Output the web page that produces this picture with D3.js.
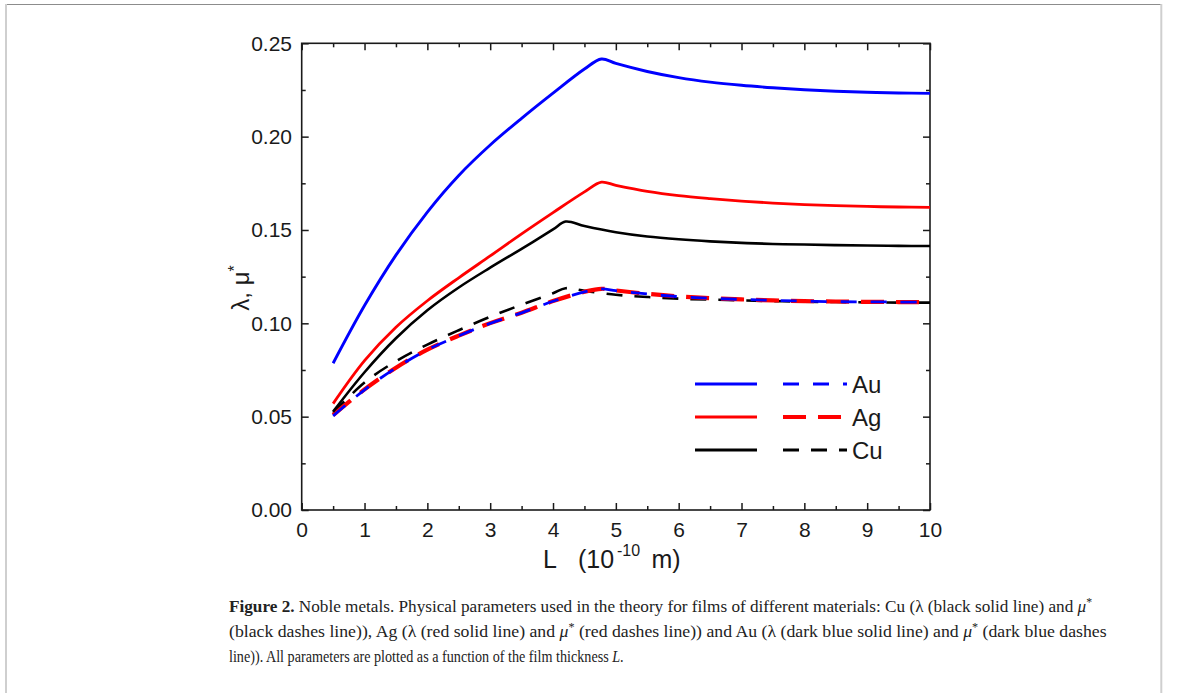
<!DOCTYPE html>
<html>
<head>
<meta charset="utf-8">
<script src="https://cdn.jsdelivr.net/npm/d3@7"></script>
<style>
  html, body { margin: 0; padding: 0; background: #fff; }
  svg { display: block; }
</style>
</head>
<body>
<svg id="chart" width="1179" height="693"></svg>
<script>
// ---------------- data ----------------
const L_AuAg = [0.5, 1.0, 1.5, 2.0, 2.5, 3.0, 3.5, 4.0, 4.5, 4.77, 5.0, 5.5, 6.0, 6.5, 7.0, 7.5, 8.0, 8.5, 9.0, 9.5, 10.0];
const Au_lambda = [0.0786, 0.1095, 0.1365, 0.1596, 0.1792, 0.1955, 0.2098, 0.2233, 0.2362, 0.2416, 0.2392, 0.2349, 0.2316, 0.2292, 0.2275, 0.2262, 0.2251, 0.2243, 0.2238, 0.2234, 0.2232];
const Ag_lambda = [0.0570, 0.0800, 0.0979, 0.1121, 0.1244, 0.1361, 0.1479, 0.1593, 0.1704, 0.1756, 0.1739, 0.1707, 0.1684, 0.1668, 0.1655, 0.1644, 0.1636, 0.1630, 0.1626, 0.1623, 0.1621];
const Au_mu = [0.0504, 0.0644, 0.0761, 0.0858, 0.0933, 0.1000, 0.1056, 0.1118, 0.1168, 0.1184, 0.1175, 0.1157, 0.1143, 0.1134, 0.1128, 0.1123, 0.1119, 0.1116, 0.1115, 0.1114, 0.1113];
const Ag_mu = [0.0508, 0.0646, 0.0762, 0.0859, 0.0934, 0.1001, 0.1057, 0.1119, 0.1169, 0.1185, 0.1176, 0.1158, 0.1144, 0.1135, 0.1128, 0.1123, 0.1119, 0.1117, 0.1115, 0.1114, 0.1113];
const L_Cu = [0.5, 1.0, 1.5, 2.0, 2.5, 3.0, 3.5, 4.0, 4.2, 4.5, 5.0, 5.5, 6.0, 6.5, 7.0, 7.5, 8.0, 8.5, 9.0, 9.5, 10.0];
const Cu_lambda = [0.0527, 0.0738, 0.0920, 0.1070, 0.1192, 0.1298, 0.1399, 0.1503, 0.1545, 0.1521, 0.1488, 0.1465, 0.1450, 0.1439, 0.1431, 0.1425, 0.1422, 0.1419, 0.1417, 0.1415, 0.1414];
const Cu_mu = [0.0520, 0.0683, 0.0797, 0.0886, 0.0963, 0.1035, 0.1100, 0.1161, 0.1188, 0.1174, 0.1153, 0.1141, 0.1132, 0.1127, 0.1123, 0.1119, 0.1116, 0.1114, 0.1112, 0.1111, 0.1111];

const xMajorTicks = [0, 1, 2, 3, 4, 5, 6, 7, 8, 9, 10];
const xMinorTicks = [0.5, 1.5, 2.5, 3.5, 4.5, 5.5, 6.5, 7.5, 8.5, 9.5];
const yMajorTicks = [0.00, 0.05, 0.10, 0.15, 0.20, 0.25];
const yMinorTicks = [0.025, 0.075, 0.125, 0.175, 0.225];
const legendNames = ["Au", "Ag", "Cu"];
const captionLines = [
  [{t: "Figure 2.", b: true}, {t: " Noble metals. Physical parameters used in the theory for films of different materials: Cu (λ (black solid line) and "}, {t: "μ", i: true}, {t: "*", sup: true}],
  [{t: "(black dashes line)), Ag (λ (red solid line) and "}, {t: "μ", i: true}, {t: "*", sup: true}, {t: " (red dashes line)) and Au (λ (dark blue solid line) and "}, {t: "μ", i: true}, {t: "*", sup: true}, {t: " (dark blue dashes"}],
  [{t: "line)). All parameters are plotted as a function of the film thickness "}, {t: "L", i: true}, {t: "."}]
];

// ---------------- layout ----------------
const SANS = "'Liberation Sans', Arial, sans-serif";
const SERIF = "'Liberation Serif', 'Times New Roman', serif";
const svg = d3.select("#chart");
const pL = 301.7, pR = 930, pT = 43.3, pB = 510;
const x = d3.scaleLinear().domain([0, 10]).range([pL, pR]);
const y = d3.scaleLinear().domain([0, 0.25]).range([pB, pT]);

// page frame
svg.append("line").attr("x1", 5).attr("x2", 1162).attr("y1", 4.5).attr("y2", 4.5).attr("stroke", "#8c8c8c").attr("stroke-width", 1.2);
svg.append("line").attr("x1", 6).attr("x2", 6).attr("y1", 4).attr("y2", 693).attr("stroke", "#cfcfcf").attr("stroke-width", 2);
svg.append("line").attr("x1", 1161.3).attr("x2", 1161.3).attr("y1", 4).attr("y2", 693).attr("stroke", "#cfcfcf").attr("stroke-width", 2);

// axes
const axisFont = 21;
const gB = svg.append("g").attr("transform", `translate(0,${pB})`)
  .call(d3.axisBottom(x).tickValues(xMajorTicks).tickFormat(d3.format("d")).tickSize(-7).tickPadding(12));
const gBm = svg.append("g").attr("transform", `translate(0,${pB})`)
  .call(d3.axisBottom(x).tickValues(xMinorTicks).tickFormat("").tickSize(-4));
const gT = svg.append("g").attr("transform", `translate(0,${pT})`)
  .call(d3.axisTop(x).tickValues(xMajorTicks).tickFormat("").tickSize(-7));
const gTm = svg.append("g").attr("transform", `translate(0,${pT})`)
  .call(d3.axisTop(x).tickValues(xMinorTicks).tickFormat("").tickSize(-4));
const gL = svg.append("g").attr("transform", `translate(${pL},0)`)
  .call(d3.axisLeft(y).tickValues(yMajorTicks).tickFormat(d3.format(".2f")).tickSize(-7).tickPadding(9.7));
const gLm = svg.append("g").attr("transform", `translate(${pL},0)`)
  .call(d3.axisLeft(y).tickValues(yMinorTicks).tickFormat("").tickSize(-4));
const gR = svg.append("g").attr("transform", `translate(${pR},0)`)
  .call(d3.axisRight(y).tickValues(yMajorTicks).tickFormat("").tickSize(-7));
const gRm = svg.append("g").attr("transform", `translate(${pR},0)`)
  .call(d3.axisRight(y).tickValues(yMinorTicks).tickFormat("").tickSize(-4));

[gB, gBm, gT, gTm, gL, gLm, gR, gRm].forEach(g => {
  g.select(".domain").remove();
  g.selectAll(".tick line").attr("stroke", "#1a1a1a").attr("stroke-width", 1.5);
  g.selectAll(".tick text").style("font-family", SANS).style("font-size", axisFont + "px").attr("fill", "#1a1a1a");
});

// frame box
svg.append("rect").attr("x", pL).attr("y", pT).attr("width", pR - pL).attr("height", pB - pT)
  .attr("fill", "none").attr("stroke", "#1a1a1a").attr("stroke-width", 1.6);

// series
const line = d3.line().x(d => x(d[0])).y(d => y(d[1])).curve(d3.curveCatmullRom.alpha(0.5));
const zip = (xs, ys) => xs.map((v, i) => [v, ys[i]]);
const series = [
  {data: zip(L_Cu, Cu_mu), color: "#000000", w: 2.6, dash: "16,12"},
  {data: zip(L_AuAg, Ag_mu), color: "#ff0000", w: 4.2, dash: "23,12"},
  {data: zip(L_AuAg, Au_mu), color: "#0000ff", w: 2.8, dash: "16,14"},
  {data: zip(L_Cu, Cu_lambda), color: "#000000", w: 2.6, dash: null},
  {data: zip(L_AuAg, Ag_lambda), color: "#ff0000", w: 2.8, dash: null},
  {data: zip(L_AuAg, Au_lambda), color: "#0000ff", w: 2.9, dash: null}
];
series.forEach(s => {
  svg.append("path").datum(s.data).attr("d", line)
    .attr("fill", "none").attr("stroke", s.color).attr("stroke-width", s.w)
    .attr("stroke-linejoin", "round")
    .attr("stroke-dasharray", s.dash);
});

// legend
const legendStyle = [
  {color: "#0000ff", w: 2.9, dw: 2.8, dash: "16,14"},
  {color: "#ff0000", w: 2.8, dw: 4.2, dash: "23,12"},
  {color: "#000000", w: 2.8, dw: 2.8, dash: "16,12"}
];
const legendY = [384, 417, 450];
legendNames.forEach((name, i) => {
  const st = legendStyle[i], ly = legendY[i];
  svg.append("line").attr("x1", 695).attr("x2", 757).attr("y1", ly).attr("y2", ly)
    .attr("stroke", st.color).attr("stroke-width", st.w);
  svg.append("line").attr("x1", 783).attr("x2", 847).attr("y1", ly).attr("y2", ly)
    .attr("stroke", st.color).attr("stroke-width", st.dw).attr("stroke-dasharray", st.dash);
  svg.append("text").attr("x", 852).attr("y", ly + 8.5).style("font-family", SANS).style("font-size", "24px")
    .attr("fill", "#1a1a1a").text(name);
});

// axis titles
const xt = svg.append("g").attr("fill", "#1a1a1a").style("font-family", SANS);
xt.append("text").attr("x", 543).attr("y", 568).style("font-size", "25px").text("L");
xt.append("text").attr("x", 578).attr("y", 568).style("font-size", "25px").text("(10");
xt.append("text").attr("x", 617).attr("y", 556).style("font-size", "16px").text("-10");
xt.append("text").attr("x", 651.5).attr("y", 568).style("font-size", "25px").text("m)");

const yt = svg.append("text").attr("transform", "translate(249,288) rotate(-90)")
  .attr("text-anchor", "middle").style("font-family", SANS).style("font-size", "24px").attr("fill", "#1a1a1a");
yt.append("tspan").text("λ, μ");
yt.append("tspan").attr("dy", -9).style("font-size", "16px").text("*");

// caption
const capBase = [612, 637, 662];
const capWidth = [864, 878, 395];
captionLines.forEach((parts, li) => {
  const g = svg.append("g");
  const t = g.append("text").attr("x", 0).attr("y", 0)
    .style("font-family", SERIF).style("font-size", "17.5px").attr("fill", "#222").style("white-space", "pre");
  let raised = false;
  parts.forEach(p => {
    const ts = t.append("tspan").text(p.t);
    if (p.b) ts.style("font-weight", "bold");
    if (p.i) ts.style("font-style", "italic");
    if (p.sup) { ts.attr("dy", -6).style("font-size", "12px"); raised = true; }
    else if (raised) { ts.attr("dy", 6); raised = false; }
  });
  const w = t.node().getComputedTextLength();
  const sx = capWidth[li] / w;
  g.attr("transform", `translate(229,${capBase[li]}) scale(${sx},1)`);
});
</script>
</body>
</html>
